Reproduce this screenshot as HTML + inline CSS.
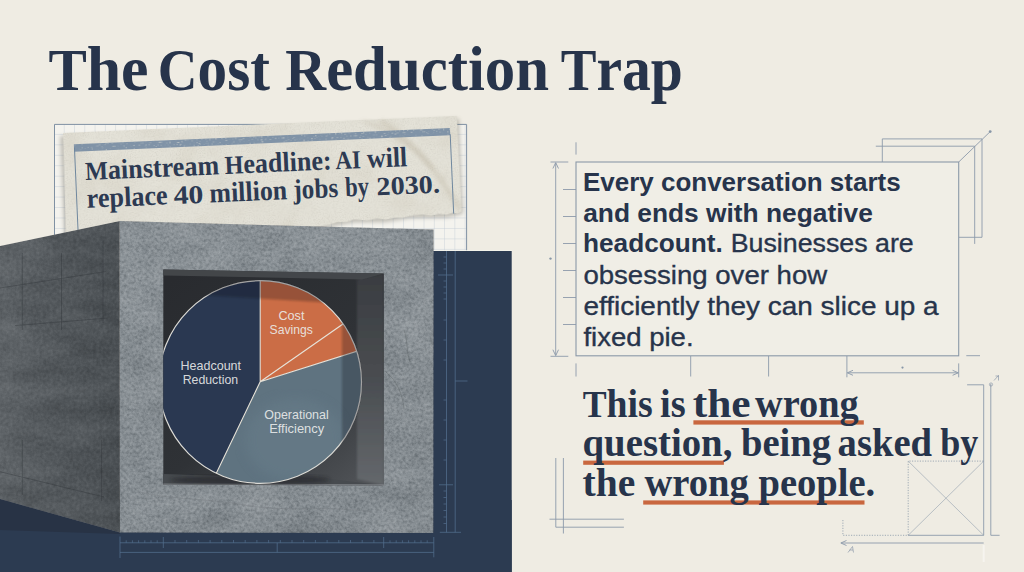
<!DOCTYPE html>
<html lang="en">
<head>
<meta charset="utf-8">
<title>The Cost Reduction Trap</title>
<style>
  html, body { margin: 0; padding: 0; background: #EFECE3; }
  body { width: 1024px; height: 572px; overflow: hidden; position: relative;
         font-family: "Liberation Sans", sans-serif; }
  svg { position: absolute; left: 0; top: 0; display: block; }
  .serif { font-family: "Liberation Serif", serif; font-weight: bold; }
  .sans  { font-family: "Liberation Sans", sans-serif; }
</style>
</head>
<body>
<svg width="1024" height="572" viewBox="0 0 1024 572">
  <defs>
    <!-- concrete texture -->
    <filter id="concrete" x="0" y="0" width="100%" height="100%" color-interpolation-filters="sRGB">
      <feTurbulence type="fractalNoise" baseFrequency="0.33" numOctaves="4" seed="7" result="n0"/>
      <feGaussianBlur in="n0" stdDeviation="0.45" result="n"/>
      <feColorMatrix in="n" type="matrix" values="0.5 0 0 0 0.25  0.5 0 0 0 0.25  0.5 0 0 0 0.25  0 0 0 0 1" result="g"/>
      <feTurbulence type="fractalNoise" baseFrequency="0.025 0.035" numOctaves="3" seed="21" result="m0"/>
      <feColorMatrix in="m0" type="matrix" values="0.28 0 0 0 0.36  0.28 0 0 0 0.36  0.28 0 0 0 0.36  0 0 0 0 1" result="m"/>
      <feBlend in="g" in2="SourceGraphic" mode="soft-light" result="s1"/>
      <feBlend in="m" in2="s1" mode="soft-light" result="s2"/>
      <feComposite in="s2" in2="SourceGraphic" operator="in"/>
    </filter>
    <filter id="concreteSoft" x="0" y="0" width="100%" height="100%" color-interpolation-filters="sRGB">
      <feTurbulence type="fractalNoise" baseFrequency="0.3" numOctaves="3" seed="17" result="n0"/>
      <feGaussianBlur in="n0" stdDeviation="0.6" result="n"/>
      <feColorMatrix in="n" type="matrix" values="0.22 0 0 0 0.39  0.22 0 0 0 0.39  0.22 0 0 0 0.39  0 0 0 0 1" result="g"/>
      <feTurbulence type="fractalNoise" baseFrequency="0.02 0.05" numOctaves="3" seed="5" result="m0"/>
      <feColorMatrix in="m0" type="matrix" values="0.22 0 0 0 0.39  0.22 0 0 0 0.39  0.22 0 0 0 0.39  0 0 0 0 1" result="m"/>
      <feBlend in="g" in2="SourceGraphic" mode="soft-light" result="s1"/>
      <feBlend in="m" in2="s1" mode="soft-light" result="s2"/>
      <feComposite in="s2" in2="SourceGraphic" operator="in"/>
    </filter>
    <!-- paper mottling -->
    <filter id="paper" x="0" y="0" width="100%" height="100%">
      <feTurbulence type="fractalNoise" baseFrequency="0.03" numOctaves="3" seed="11" result="n"/>
      <feColorMatrix in="n" type="matrix" values="0 0 0 0 0.62  0 0 0 0 0.58  0 0 0 0 0.48  0.8 0 0 0 -0.36" result="a"/>
      <feComposite in="a" in2="SourceGraphic" operator="in" result="stain"/>
      <feTurbulence type="fractalNoise" baseFrequency="0.8" numOctaves="2" seed="2" result="g"/>
      <feColorMatrix in="g" type="matrix" values="0 0 0 0 0.45  0 0 0 0 0.43  0 0 0 0 0.38  0.7 0 0 0 -0.3" result="ga"/>
      <feComposite in="ga" in2="SourceGraphic" operator="in" result="grain"/>
      <feMerge><feMergeNode in="SourceGraphic"/><feMergeNode in="stain"/><feMergeNode in="grain"/></feMerge>
    </filter>
    <filter id="flecks" x="0" y="0" width="100%" height="100%" color-interpolation-filters="sRGB">
      <feTurbulence type="fractalNoise" baseFrequency="0.5 0.9" numOctaves="2" seed="4" result="n"/>
      <feColorMatrix in="n" type="matrix" values="0 0 0 0 0.89  0 0 0 0 0.88  0 0 0 0 0.84  3.2 0 0 0 -1.95" result="a"/>
      <feComposite in="a" in2="SourceGraphic" operator="in"/>
    </filter>
    <filter id="blur1"><feGaussianBlur stdDeviation="1.2"/></filter>
    <filter id="blur2"><feGaussianBlur stdDeviation="2"/></filter>
    <filter id="blur3"><feGaussianBlur stdDeviation="3.5"/></filter>
    <filter id="blur6"><feGaussianBlur stdDeviation="6"/></filter>
    <pattern id="grid" x="54.4" y="124.4" width="10.28" height="10.45" patternUnits="userSpaceOnUse">
      <path d="M10.28 0 V10.45 M0 10.45 H10.28" fill="none" stroke="#C6CED6" stroke-width="0.9"/>
    </pattern>
    <clipPath id="pieClip"><circle cx="260.2" cy="382" r="101.3"/></clipPath>
    <clipPath id="greyClip"><polygon points="260.2,381.7 545.2,292 560,700 129.4,654.4"/></clipPath>
    <clipPath id="pieClipOuter"><circle cx="260.2" cy="382" r="102.1"/></clipPath>
    <clipPath id="recessClip"><polygon points="163.3,269.6 383.8,273.6 383.8,485.3 163.3,484.6"/></clipPath>
    <linearGradient id="backWall" x1="0.1" y1="0" x2="0.9" y2="1">
      <stop offset="0" stop-color="#292B2F"/><stop offset="0.55" stop-color="#2F3236"/><stop offset="0.8" stop-color="#3F4246"/><stop offset="1" stop-color="#505357"/>
    </linearGradient>
    <linearGradient id="rightWall" x1="0" y1="0" x2="0" y2="1">
      <stop offset="0" stop-color="#3A3D41"/><stop offset="0.5" stop-color="#4A4D51"/><stop offset="1" stop-color="#64686C"/>
    </linearGradient>
    <linearGradient id="sideGrad" x1="0" y1="0" x2="1" y2="0">
      <stop offset="0" stop-color="#5E6367"/><stop offset="0.45" stop-color="#53585C"/><stop offset="1" stop-color="#4A4F53"/>
    </linearGradient>
    <linearGradient id="sideShade" x1="0" y1="0" x2="0" y2="1">
      <stop offset="0" stop-color="#15181c" stop-opacity="0"/><stop offset="1" stop-color="#15181c" stop-opacity="0"/>
    </linearGradient>
    <linearGradient id="frontGrad" x1="0" y1="0" x2="0" y2="1">
      <stop offset="0" stop-color="#899095"/><stop offset="1" stop-color="#858C91"/>
    </linearGradient>
  </defs>

  <!-- background -->
  <rect width="1024" height="572" fill="#EFECE3"/>

  <!-- ===== LEFT ILLUSTRATION ===== -->
  <!-- grid paper -->
  <g id="gridpaper">
    <rect x="54.5" y="124" width="412.5" height="140" fill="#F4F3EE"/>
    <rect x="54.5" y="124" width="412.5" height="140" fill="url(#grid)"/>
    <path d="M54.5 264 V124.4 H466.6 V252" fill="none" stroke="#8091A3" stroke-width="1"/>
  </g>

  <!-- navy ground -->
  <rect x="433" y="250.2" width="78.9" height="1.2" fill="#F6F4EC"/>
  <rect x="433" y="251" width="78.7" height="321" fill="#2C3B51"/>
  <rect x="0" y="500" width="511.7" height="72" fill="#2C3B51"/>
  <polygon points="0,497 120,531 120,534 0,530" fill="#283345"/>

  <!-- newspaper clipping placeholder (filled in below) -->
  <g id="newspaper" transform="translate(63 133) rotate(-2.49)">
    <!-- soft shadow -->
    <path d="M-3 3 H396 V98 L380 101 L343 100 L318 103 L287 102 L257 106 L200 108 L-3 108 Z" fill="#5b5648" opacity="0.35" filter="url(#blur2)"/>
    <path id="paperShape" d="M0 0 L394.2 0 L394.9 95.6 L391 97.4 L386 96.6 L380 98.3 L372 97.2 L364 98.6 L355 97.1 L343 97.8 L336 99.6 L328 98.9 L318.6 100.4 L310 99.2 L300 100.6 L287 99 L279 101.2 L270 100.9 L262 103.2 L250 104.4 L240 105.8 L228 107.5 L200 109 L-1.5 109 Z" fill="#E4E2D8" filter="url(#paper)"/>
    <!-- crease / stain on right -->
    <path d="M318 2 C345 20 372 52 392 92" stroke="#B9B09C" stroke-width="5" fill="none" opacity="0.35" filter="url(#blur2)"/>
    <path d="M300 1 C330 14 352 30 368 52" stroke="#A89C86" stroke-width="2" fill="none" opacity="0.3" filter="url(#blur2)"/>
    <!-- blue stripe -->
    <rect x="10.3" y="11.8" width="376.5" height="7.3" fill="#8093A7"/>
    <rect x="10.3" y="11.8" width="376.5" height="7.3" fill="#E3E0D6" filter="url(#flecks)"/>
    <path d="M10.8 15 V99 M386.8 18 V97.5" stroke="#6F879E" stroke-width="1" fill="none"/>
    <g class="serif" fill="#2D3A52">
      <text x="20.4" y="48" textLength="134.1" lengthAdjust="spacingAndGlyphs"><tspan font-size="26">M</tspan><tspan font-size="28">ainstream</tspan></text>
      <text x="160.1" y="48" textLength="107.0" lengthAdjust="spacingAndGlyphs"><tspan font-size="26">H</tspan><tspan font-size="28">eadline:</tspan></text>
      <text x="270.9" y="48" textLength="25.5" lengthAdjust="spacingAndGlyphs"><tspan font-size="26">AI</tspan></text>
      <text x="302.4" y="48" textLength="40.4" lengthAdjust="spacingAndGlyphs"><tspan font-size="28">will</tspan></text>
      <text x="20.8" y="75.8" textLength="81.0" lengthAdjust="spacingAndGlyphs"><tspan font-size="28">replace</tspan></text>
      <text x="107.7" y="75.8" textLength="29.9" lengthAdjust="spacingAndGlyphs"><tspan font-size="26">40</tspan></text>
      <text x="143.7" y="75.8" textLength="77.7" lengthAdjust="spacingAndGlyphs"><tspan font-size="28">million</tspan></text>
      <text x="227.6" y="75.8" textLength="44.8" lengthAdjust="spacingAndGlyphs"><tspan font-size="28">jobs</tspan></text>
      <text x="279.4" y="75.8" textLength="23.9" lengthAdjust="spacingAndGlyphs"><tspan font-size="28">by</tspan></text>
      <text x="310.8" y="75.8" textLength="63.5" lengthAdjust="spacingAndGlyphs"><tspan font-size="26">2030.</tspan></text>
    </g>
  </g>

  <!-- concrete block -->
  <g id="block">
    <polygon points="0,246 119.8,221 120,532.6 0,499" fill="url(#sideGrad)" filter="url(#concreteSoft)"/>
    <polygon points="0,246 119.8,221 120,532.6 0,499" fill="url(#sideShade)"/>
    <polygon points="119.6,221 433.6,229.6 433.3,532.9 119.9,532.6" fill="url(#frontGrad)" filter="url(#concrete)"/>
  </g>

  <!-- pencil marks & cracks -->
  <g fill="none" stroke="#2E3236" stroke-width="0.7" opacity="0.55">
    <path d="M22.3 253 V330 M61.5 253 V330 M103 240 V323"/>
    <path d="M0 288 L106.3 271.5 M15 325.6 L108 318"/>
    <path d="M0 471.7 L104 497 M22.3 440 V494.6 M101.6 440 V501"/>
  </g>
  <g fill="none" stroke-linecap="round">
    <path d="M151 240 C158 262 163 280 156 300 C152 312 150 330 148 345" stroke="#A4A9AD" stroke-width="1.6" opacity="0.35" filter="url(#blur1)"/>
    <path d="M386 372 C396 380 402 392 404 408 M404 330 C408 340 406 352 410 362" stroke="#5E6367" stroke-width="0.9" opacity="0.5"/>
    <path d="M140 492 C170 500 210 498 250 506 C290 512 330 505 372 512" stroke="#73787C" stroke-width="0.9" opacity="0.45"/>
    <path d="M400 246 C405 262 398 280 402 298" stroke="#9FA4A8" stroke-width="1.2" opacity="0.35" filter="url(#blur1)"/>
  </g>
  <!-- recess -->
  <g id="recess">
    <polygon points="163.3,269.6 383.8,273.6 383.8,485.3 163.3,484.6" fill="url(#backWall)"/>
    <!-- right inner wall -->
    <polygon points="357,279 383.8,273.6 383.8,485.3 357,479" fill="url(#rightWall)" filter="url(#blur1)" clip-path="url(#recessClip)"/>
    <!-- floor -->
    <polygon points="163.3,484.8 383.8,485.5 330,479 163.3,474" fill="#474B4F"/>
    <polygon points="163.3,484.8 383.8,485.5 383.8,484.3 163.3,483.4" fill="#8C9094" opacity="0.7"/>
    <!-- shadow of disc on floor / wall -->
    <ellipse cx="250" cy="480" rx="80" ry="5" fill="#1c1e21" opacity="0.55" filter="url(#blur2)" clip-path="url(#recessClip)"/>
    <!-- ceiling darkness -->
    <polygon points="163.3,269.6 383.8,273.6 362,279.5 163.3,275.5" fill="#46494D" opacity="0.9"/>
  </g>

  <!-- pie -->
  <g id="pie" clip-path="url(#recessClip)">
    <g clip-path="url(#pieClip)">
      <polygon points="260.2,381.7 129.4,654.4 -40,654 -40,81.7 260.2,81.7" fill="#2A3851"/>
      <polygon points="260.2,381.7 260.2,81.7 560,81.7 545.2,292" fill="#CB6D46"/>
      <polygon points="260.2,381.7 545.2,292 560,700 129.4,654.4" fill="#5F7380"/>
      <!-- soft highlight on grey slice -->
      <g clip-path="url(#greyClip)"><ellipse cx="295" cy="440" rx="50" ry="42" fill="#6C818D" opacity="0.4" filter="url(#blur6)"/></g>
      <path d="M260.2 381.7 V270 M260.2 381.7 L504.7 211.3 M260.2 381.7 L545.2 292 M260.2 381.7 L129.4 654.4" stroke="#E6E2D8" stroke-width="1.1" fill="none"/>
    </g>
    <circle cx="260.2" cy="382" r="101.3" fill="none" stroke="#DCDBD6" stroke-width="1.2"/>
    <!-- shadows cast by recess walls (over rim + lines) -->
    <g clip-path="url(#pieClipOuter)">
      <g filter="url(#blur1)" fill="#0b0d12" opacity="0.27">
        <polygon points="150,260 380,260 380,500 342,500 342,303.5 150,292"/>
      </g>
    </g>
  </g>

  <!-- ===== RULERS ON NAVY ===== -->
  <g id="rulers" fill="none" stroke="#536F8E" stroke-width="0.75">
    <!-- bottom ruler -->
    <path d="M120 536.5 V558 M433.8 537 V557.3"/>
    <path d="M120 542.8 H433.8 M120 552.4 H433.8"/>
    <path d="M163.3 537 V548 M383.7 537 V548 M277.2 542.8 V552.4"/>
    <path d="M126.2 540.3 V542.8 M132.4 540.3 V542.8 M138.6 540.3 V542.8 M144.8 540.3 V542.8 M151 540.3 V542.8 M157.2 540.3 V542.8" stroke-width="0.7"/>
    <path d="M175 540 V542.8 M186.7 540 V542.8 M198.4 540 V542.8 M210.1 540 V542.8 M221.8 540 V542.8 M233.5 540 V542.8 M245.2 540 V542.8 M256.9 540 V542.8 M268.6 540 V542.8 M280.3 540 V542.8 M292 540 V542.8 M303.7 540 V542.8 M315.4 540 V542.8 M327.1 540 V542.8 M338.8 540 V542.8 M350.5 540 V542.8 M362.2 540 V542.8 M373.9 540 V542.8" stroke-width="0.7"/>
    <path d="M390 540.3 V542.8 M396.2 540.3 V542.8 M402.4 540.3 V542.8 M408.6 540.3 V542.8 M414.8 540.3 V542.8 M421 540.3 V542.8 M427.2 540.3 V542.8" stroke-width="0.7"/>
    <!-- vertical ruler -->
    <path d="M446.5 251 V532.3 M455.2 251 V532.3 M439.8 532.3 H461"/>
    <path d="M438 275 H453 M439 484.8 H453 M455.2 381 H467.5"/>
    <path d="M443.5 257 H446.5 M443.5 263 H446.5 M443.5 269 H446.5 M443.5 281 H446.5 M443.5 287 H446.5 M443.5 293 H446.5 M443.5 299 H446.5 M443.5 320 H446.5 M443.5 340 H446.5 M443.5 360 H446.5 M443.5 400 H446.5 M443.5 420 H446.5 M443.5 440 H446.5 M443.5 460 H446.5 M443.5 491 H446.5 M443.5 497.5 H446.5 M443.5 504 H446.5 M443.5 510.5 H446.5 M443.5 517 H446.5 M443.5 523.5 H446.5" stroke-width="0.7"/>
  </g>
  <!-- ===== TITLE ===== -->
  <g class="serif" fill="#27344B">
    <text x="48.4" y="89.8" textLength="100.1" lengthAdjust="spacingAndGlyphs"><tspan font-size="59.5">T</tspan><tspan font-size="64">he</tspan></text>
    <text x="157.8" y="89.8" textLength="112.1" lengthAdjust="spacingAndGlyphs"><tspan font-size="59.5">C</tspan><tspan font-size="64">ost</tspan></text>
    <text x="285.3" y="89.8" textLength="263.8" lengthAdjust="spacingAndGlyphs"><tspan font-size="59.5">R</tspan><tspan font-size="64">eduction</tspan></text>
    <text x="560.7" y="89.8" textLength="122.1" lengthAdjust="spacingAndGlyphs"><tspan font-size="59.5">T</tspan><tspan font-size="64">rap</tspan></text>
  </g>

  <!-- ===== PIE LABELS ===== -->
  <g class="sans" font-size="13.3" fill="#ECEDEC" fill-opacity="0.9" text-anchor="middle">
    <text x="291.4" y="320.2" textLength="26" lengthAdjust="spacingAndGlyphs">Cost</text>
    <text x="291.2" y="334" textLength="43.3" lengthAdjust="spacingAndGlyphs">Savings</text>
    <text x="210.8" y="370.2" textLength="60.5" lengthAdjust="spacingAndGlyphs">Headcount</text>
    <text x="210.4" y="383.7" textLength="55.5" lengthAdjust="spacingAndGlyphs">Reduction</text>
    <text x="296.5" y="419.2" textLength="64.4" lengthAdjust="spacingAndGlyphs">Operational</text>
    <text x="296.7" y="432.6" textLength="55.1" lengthAdjust="spacingAndGlyphs">Efficiency</text>
  </g>

  <!-- ===== RIGHT: BODY TEXT BOX ===== -->
  <g id="textbox">
    <!-- back box (3D offset) -->
    <g fill="none" stroke="#8C9AAA" stroke-width="0.9">
      <path d="M882.3 162 V138.9 H982 V237.3 H958.7"/>
      <path d="M875.8 146.2 H974.7 V243.9"/>
      <path d="M958.7 162 L990 131.8"/>
      <path d="M576 142.3 V154.6"/>
      <!-- left dimension line -->
      <path d="M555.7 163 V355"/>
      <path d="M550.5 162 H568.3 M550.5 356.3 H568.3"/>
      <path d="M552.9 168.5 L555.7 162.6 L558.5 168.5 M552.9 349.7 L555.7 355.7 L558.5 349.7"/>
      <path d="M563 189.5 H576 M563 216.5 H576 M563 243.5 H576 M563 270.5 H576 M563 297.5 H576 M563 324.5 H576"/>
      <!-- ticks under box -->
      <path d="M576 363.4 V376.5 M690.7 356 V376.5 M768.6 356 V376.5 M846.9 356 V377.3 M958.7 363.4 V377.3"/>
      <path d="M847.5 372.8 H958.2"/>
      <path d="M853 370.3 L847.3 372.8 L853 375.3 M952.6 370.3 L958.3 372.8 L952.6 375.3"/>
      <path d="M966.3 355.7 H980"/>
      <!-- right bracket & verticals -->
      <path d="M967.1 384.8 H983.7 V535.3"/>
      <path d="M990.8 384 V535.3 H999.6"/>
      <!-- crossed box -->
      <path d="M908.2 535.3 H983.7"/>
      <path d="M908.2 461.1 L983.7 535.3 M983.7 461.1 L908.2 535.3" stroke-width="0.7" opacity="0.8"/>
      <path d="M908.2 535.3 V461.1 H983.7" stroke-dasharray="1.2 1.4" stroke-width="0.8"/>
      <path d="M842.9 520 V535.3 H908.2" stroke-dasharray="1.2 1.4" stroke-width="0.8"/>
      <path d="M841.2 543 H983.7"/>
      <path d="M846.5 540.5 L840.8 543 L846.5 545.5"/>
      <!-- lower-left corner lines -->
      <path d="M555.8 458 V527.2 H623.9 M563.4 458 V533.5 M549.5 519.2 H623.9"/>
      <!-- tiny glyph marks -->
      <path d="M848 552.5 L852.5 546.5 L853.5 552.5 M849.6 550 H853" stroke-width="0.7"/>
      <path d="M994 380.5 L998.5 375.5 V380.5 M995.5 376 H999" stroke-width="0.7"/>
      <circle cx="991" cy="384.5" r="1.6" stroke-width="0.7"/>
    </g>
    <g fill="#8796A7">
      <circle cx="990.2" cy="131.6" r="1.4"/>
      <circle cx="550.5" cy="258.6" r="1.2"/>
      <circle cx="902.5" cy="367.6" r="1.1"/>
    </g>
    <path d="M983.7 545 V562" stroke="#F8F7F2" stroke-width="2" opacity="0.8"/>
    <rect x="576" y="162" width="382.7" height="193.8" fill="#F0EEE6" stroke="#8B99A8" stroke-width="1.1"/>
  </g>
  <g class="sans" font-size="26.5" fill="#27344B">
    <text x="583" y="190.5" font-weight="bold" textLength="317.6" lengthAdjust="spacingAndGlyphs">Every conversation starts</text>
    <text x="583.2" y="221.6" font-weight="bold" textLength="289.6" lengthAdjust="spacingAndGlyphs">and ends with negative</text>
    <text x="583" y="252.4" font-weight="bold" textLength="139.8" lengthAdjust="spacingAndGlyphs">headcount.</text>
    <text stroke="#27344B" stroke-width="0.35" x="730.7" y="252.4" textLength="183" lengthAdjust="spacingAndGlyphs">Businesses are</text>
    <text stroke="#27344B" stroke-width="0.35" x="583.4" y="283.8" textLength="243.8" lengthAdjust="spacingAndGlyphs">obsessing over how</text>
    <text stroke="#27344B" stroke-width="0.35" x="583.4" y="314.7" textLength="355.2" lengthAdjust="spacingAndGlyphs">efficiently they can slice up a</text>
    <text stroke="#27344B" stroke-width="0.35" x="583.4" y="345.9" textLength="110.2" lengthAdjust="spacingAndGlyphs">fixed pie.</text>
  </g>

  <!-- ===== QUOTE ===== -->
  <g id="underlines" fill="#C9673F">
    <rect x="693.4" y="420.3" width="170.4" height="4.3"/>
    <rect x="583.2" y="460.6" width="140.7" height="4.2"/>
    <rect x="643.2" y="500.4" width="221.3" height="4.2"/>
  </g>
  <g class="serif" fill="#27344B">
    <text x="582.7" y="416.8" textLength="70.0" lengthAdjust="spacingAndGlyphs"><tspan font-size="38.5">T</tspan><tspan font-size="40.6">his</tspan></text>
    <text x="660.0" y="416.8" textLength="25.6" lengthAdjust="spacingAndGlyphs"><tspan font-size="40.6">is</tspan></text>
    <text x="692.7" y="416.8" textLength="57.9" lengthAdjust="spacingAndGlyphs"><tspan font-size="40.6">the</tspan></text>
    <text x="755.1" y="416.8" textLength="103.6" lengthAdjust="spacingAndGlyphs"><tspan font-size="40.6">wrong</tspan></text>
    <text x="582.5" y="456.2" textLength="149.9" lengthAdjust="spacingAndGlyphs"><tspan font-size="40.6">question,</tspan></text>
    <text x="740.9" y="456.2" textLength="90.2" lengthAdjust="spacingAndGlyphs"><tspan font-size="40.6">being</tspan></text>
    <text x="837.6" y="456.2" textLength="94.5" lengthAdjust="spacingAndGlyphs"><tspan font-size="40.6">asked</tspan></text>
    <text x="940.3" y="456.2" textLength="38.1" lengthAdjust="spacingAndGlyphs"><tspan font-size="40.6">by</tspan></text>
    <text x="582.6" y="495.9" textLength="52.7" lengthAdjust="spacingAndGlyphs"><tspan font-size="40.6">the</tspan></text>
    <text x="644.4" y="495.9" textLength="104.3" lengthAdjust="spacingAndGlyphs"><tspan font-size="40.6">wrong</tspan></text>
    <text x="758.5" y="495.9" textLength="116.7" lengthAdjust="spacingAndGlyphs"><tspan font-size="40.6">people.</tspan></text>
  </g>
</svg>
</body>
</html>
